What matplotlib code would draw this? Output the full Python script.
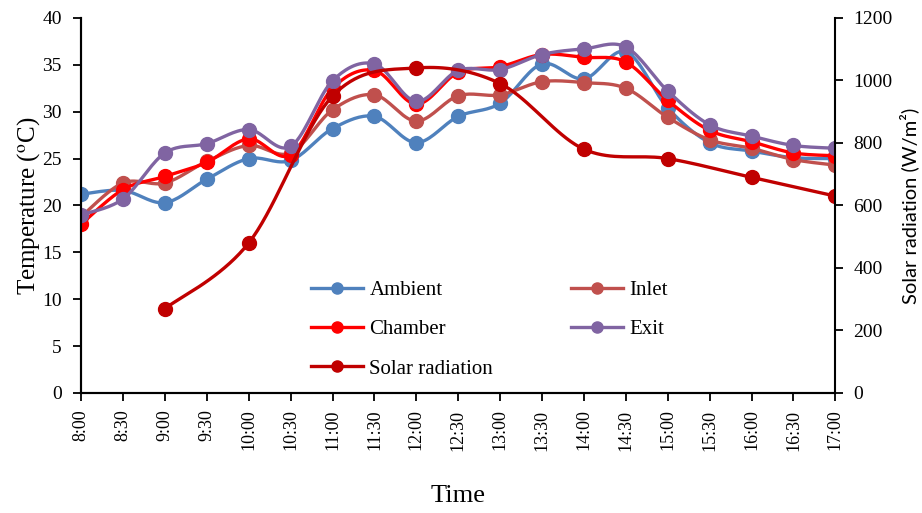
import numpy as np
import matplotlib
matplotlib.use('Agg')
import matplotlib.pyplot as plt

plt.rcParams['font.family'] = 'Liberation Serif'
plt.rcParams['mathtext.fontset'] = 'stix'

# dati
orari = ['8:00', '8:30', '9:00', '9:30', '10:00', '10:30', '11:00', '11:30', '12:00', '12:30',
         '13:00', '13:30', '14:00', '14:30', '15:00', '15:30', '16:00', '16:30', '17:00']

ambient = [21.2, 21.6, 20.3, 22.8, 25.0, 24.8, 28.2, 29.5, 26.7, 29.5,
           30.9, 35.1, 33.5, 36.4, 30.4, 26.7, 25.8, 25.1, 25.0]
inlet = [18.8, 22.4, 22.4, 24.7, 26.4, 25.6, 30.2, 31.8, 29.0, 31.7,
         31.8, 33.2, 33.1, 32.5, 29.4, 27.0, 26.1, 24.9, 24.3]
chamber = [18.0, 21.7, 23.1, 24.6, 27.1, 25.4, 32.5, 34.4, 30.8, 34.2,
           34.8, 36.1, 35.8, 35.3, 31.2, 28.0, 26.8, 25.6, 25.3]
exit_t = [19.0, 20.7, 25.6, 26.6, 28.1, 26.3, 33.3, 35.1, 31.1, 34.4,
          34.5, 36.1, 36.7, 36.9, 32.2, 28.6, 27.4, 26.4, 26.1]

orari_sole = ['9:00', '10:00', '11:00', '12:00', '13:00', '14:00', '15:00', '16:00', '17:00']
radiazione = [270, 480, 950, 1040, 990, 780, 750, 690, 630]


def liscia(x, y, n=20):
    # curva tipo Excel (Catmull-Rom) tra i punti
    x = np.asarray(x, float)
    y = np.asarray(y, float)
    px = np.concatenate([[x[0]], x, [x[-1]]])
    py = np.concatenate([[y[0]], y, [y[-1]]])
    xs, ys = [], []
    for i in range(1, len(px) - 2):
        p0, p1, p2, p3 = (np.array([px[j], py[j]]) for j in (i - 1, i, i + 1, i + 2))
        c1 = p1 + (p2 - p0) / 6
        c2 = p2 - (p3 - p1) / 6
        t = np.linspace(0, 1, n)[:, None]
        b = (1 - t) ** 3 * p1 + 3 * (1 - t) ** 2 * t * c1 + 3 * (1 - t) * t ** 2 * c2 + t ** 3 * p2
        xs.extend(b[:, 0])
        ys.extend(b[:, 1])
    return xs, ys


fig, ax = plt.subplots(figsize=(9.22, 5.13), dpi=100)
fig.subplots_adjust(left=0.088, right=0.906, bottom=0.234, top=0.965)
ax2 = ax.twinx()

xi = np.arange(len(orari))
serie = [(ambient, '#4F81BD', 'Ambient'), (inlet, '#C0504D', 'Inlet'),
         (chamber, '#FF0000', 'Chamber'), (exit_t, '#8064A2', 'Exit')]
handles = {}
for dati, col, nome in serie:
    sx, sy = liscia(xi, dati)
    ax.plot(sx, sy, color=col, lw=2.4, solid_capstyle='round')
    ax.plot(xi, dati, 'o', color=col, ms=10)
    handles[nome] = ax.plot([], [], '-o', color=col, lw=2.4, ms=8)[0]

xs_sole = [orari.index(o) for o in orari_sole]
sx, sy = liscia(xs_sole, radiazione)
ax2.plot(sx, sy, color='#C00000', lw=2.4)
ax2.plot(xs_sole, radiazione, 'o', color='#C00000', ms=10)
handles['Solar radiation'] = ax2.plot([], [], '-o', color='#C00000', lw=2.4, ms=8)[0]

ax.set_xlim(0, len(orari) - 1)
ax.set_ylim(0, 40)
ax2.set_ylim(0, 1200)
ax.set_yticks(range(0, 41, 5))
ax2.set_yticks(range(0, 1201, 200))
ax.set_xticks(xi)
ax.set_xticklabels(orari, rotation=90, fontsize=13)
ax.tick_params(axis='y', labelsize=14, width=1.3, length=6, pad=8)
ax.tick_params(axis='x', width=1.3, length=6, pad=6)
ax2.tick_params(axis='y', labelsize=14, width=1.3, length=6, pad=7)

for a in (ax, ax2):
    a.spines['top'].set_visible(False)
    for s in ('left', 'right', 'bottom'):
        a.spines[s].set_linewidth(1.5)
ax.spines['right'].set_visible(False)

ax.set_ylabel(r'Temperature ($^{\mathrm{o}}$C)', fontsize=18, labelpad=0)
ax2.set_ylabel('Solar radiation (W/m²)', fontsize=14.5, family='Lato', labelpad=5)
ax.set_xlabel('Time', fontsize=19, labelpad=25)

ordine = ['Ambient', 'Chamber', 'Solar radiation', 'Inlet', 'Exit']
ax2.legend([handles[k] for k in ordine], ordine, ncol=2, frameon=False, fontsize=15,
           loc='upper left', bbox_to_anchor=(0.28, 0.35), columnspacing=3.75,
           handlelength=2.5, labelspacing=0.95, handletextpad=0.3)

plt.savefig('out.png', dpi=100)
